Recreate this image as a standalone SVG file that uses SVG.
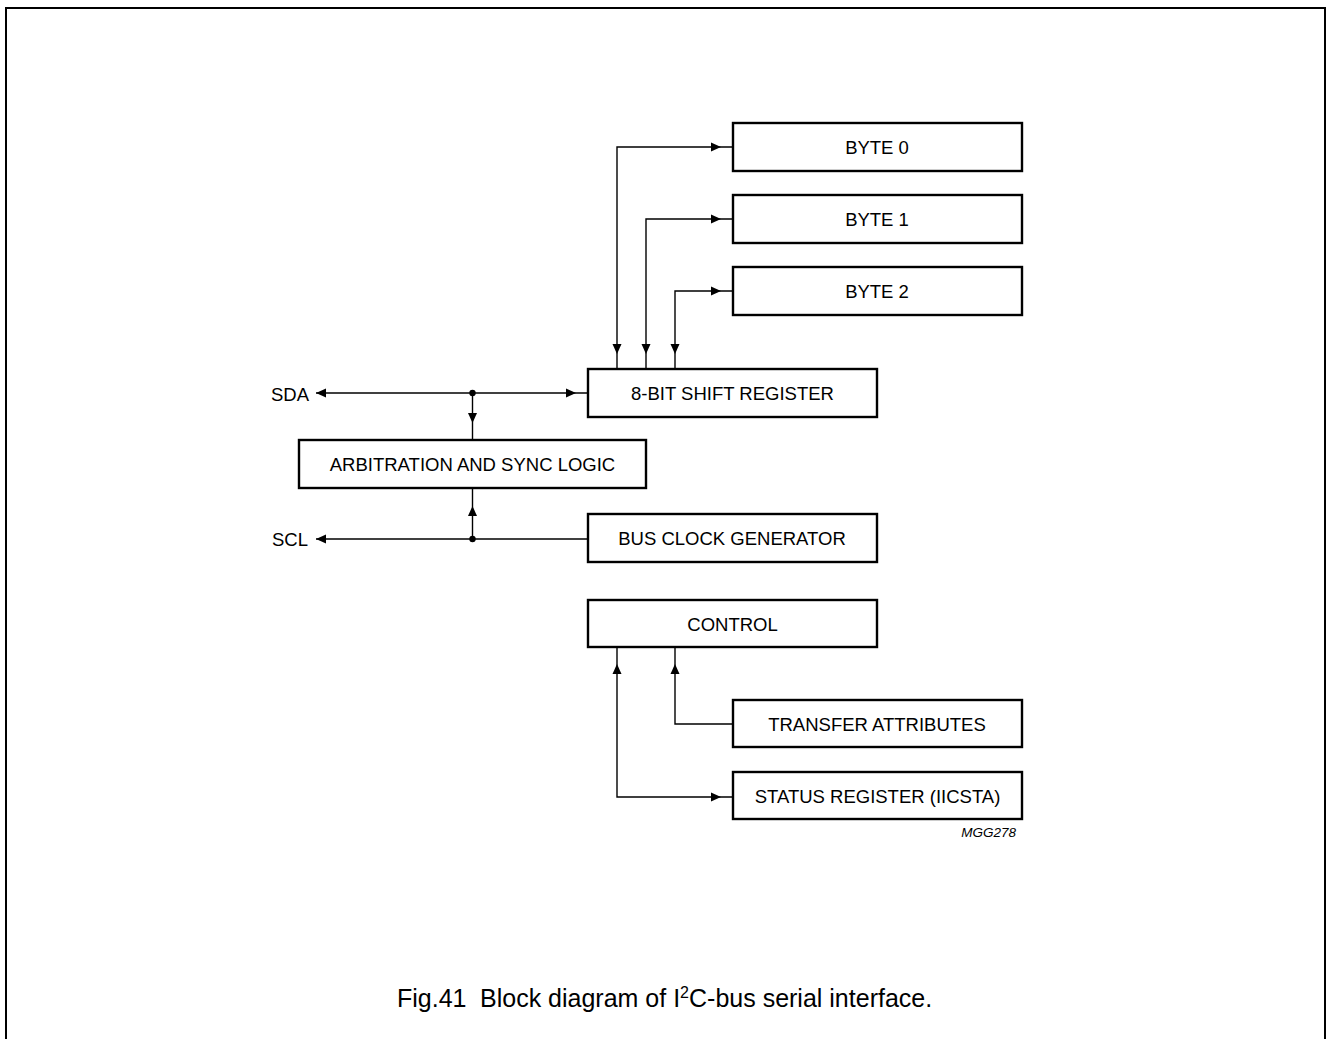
<svg xmlns="http://www.w3.org/2000/svg" xmlns:xlink="http://www.w3.org/1999/xlink" width="1327" height="1039" viewBox="0 0 1327 1039">
<style>
.box{fill:#fff;stroke:#000;stroke-width:2.4}
.t{font-family:"Liberation Sans",Arial,sans-serif;font-size:18.5px;fill:#000;text-anchor:middle}
.lbl{font-family:"Liberation Sans",Arial,sans-serif;font-size:18.5px;fill:#000;text-anchor:end}
.w{fill:none;stroke:#000;stroke-width:1.4}
.cap{font-family:"Liberation Sans",Arial,sans-serif;font-size:25px;fill:#000}
.code{font-family:"Liberation Sans",Arial,sans-serif;font-size:13.5px;font-style:italic;fill:#000;text-anchor:end}
</style>
<defs>
<path id="aR" d="M0,0 L-10,-4.5 L-10,4.5 Z" fill="#000"/>
<path id="aL" d="M0,0 L10,-4.5 L10,4.5 Z" fill="#000"/>
<path id="aD" d="M0,0 L-4.5,-10 L4.5,-10 Z" fill="#000"/>
<path id="aU" d="M0,0 L-4.5,10 L4.5,10 Z" fill="#000"/>
</defs>
<rect width="1327" height="1039" fill="#fff"/>
<path d="M6,1045 V8 H1325 V1045" fill="none" stroke="#000" stroke-width="2"/>

<g id="connectors">
<path class="w" d="M617,369 V147 H733"/>
<path class="w" d="M646,369 V219 H733"/>
<path class="w" d="M675,369 V291 H733"/>
<use xlink:href="#aR" x="721" y="147"/>
<use xlink:href="#aR" x="721" y="219"/>
<use xlink:href="#aR" x="721" y="291"/>
<use xlink:href="#aD" x="617" y="354"/>
<use xlink:href="#aD" x="646" y="354"/>
<use xlink:href="#aD" x="675" y="354"/>
<path class="w" d="M316,393 H588"/>
<use xlink:href="#aL" x="316" y="393"/>
<use xlink:href="#aR" x="576" y="393"/>
<circle cx="472.5" cy="393" r="3.2" fill="#000"/>
<path class="w" d="M472.5,393 V440"/>
<use xlink:href="#aD" x="472.5" y="423"/>
<path class="w" d="M316,539 H588"/>
<use xlink:href="#aL" x="316" y="539"/>
<circle cx="472.5" cy="539" r="3.2" fill="#000"/>
<path class="w" d="M472.5,539 V488"/>
<use xlink:href="#aU" x="472.5" y="506"/>
<path class="w" d="M617,647 V797 H733"/>
<use xlink:href="#aU" x="617" y="664"/>
<use xlink:href="#aR" x="721" y="797"/>
<path class="w" d="M675,647 V724 H733"/>
<use xlink:href="#aU" x="675" y="664"/>
</g>

<g id="sda"><text class="lbl" x="309" y="400.5">SDA</text></g>
<g id="scl"><text class="lbl" x="308" y="545.5">SCL</text></g>

<g id="byte0"><rect class="box" x="733" y="123" width="289" height="48"/><text class="t" x="877" y="153.5">BYTE 0</text></g>
<g id="byte1"><rect class="box" x="733" y="195" width="289" height="48"/><text class="t" x="877" y="225.5">BYTE 1</text></g>
<g id="byte2"><rect class="box" x="733" y="267" width="289" height="48"/><text class="t" x="877" y="297.5">BYTE 2</text></g>
<g id="shift"><rect class="box" x="588" y="369" width="289" height="48"/><text class="t" x="732.5" y="399.5">8-BIT SHIFT REGISTER</text></g>
<g id="arb"><rect class="box" x="299" y="440" width="347" height="48"/><text class="t" x="472.5" y="470.5">ARBITRATION AND SYNC LOGIC</text></g>
<g id="busclk"><rect class="box" x="588" y="514" width="289" height="48"/><text class="t" x="732" y="544.5">BUS CLOCK GENERATOR</text></g>
<g id="control"><rect class="box" x="588" y="600" width="289" height="47"/><text class="t" x="732.5" y="630.5">CONTROL</text></g>
<g id="transfer"><rect class="box" x="733" y="700" width="289" height="47"/><text class="t" x="877" y="730.5">TRANSFER ATTRIBUTES</text></g>
<g id="status"><rect class="box" x="733" y="772" width="289" height="47"/><text class="t" x="877.5" y="802.5">STATUS REGISTER (IICSTA)</text></g>

<g id="code"><text class="code" x="1016" y="837">MGG278</text></g>

<g id="caption"><text class="cap" y="1007"><tspan x="397">Fig.41</tspan><tspan x="480">Block diagram of I</tspan><tspan y="998" font-size="16">2</tspan><tspan y="1007">C-bus serial interface.</tspan></text></g>
</svg>
